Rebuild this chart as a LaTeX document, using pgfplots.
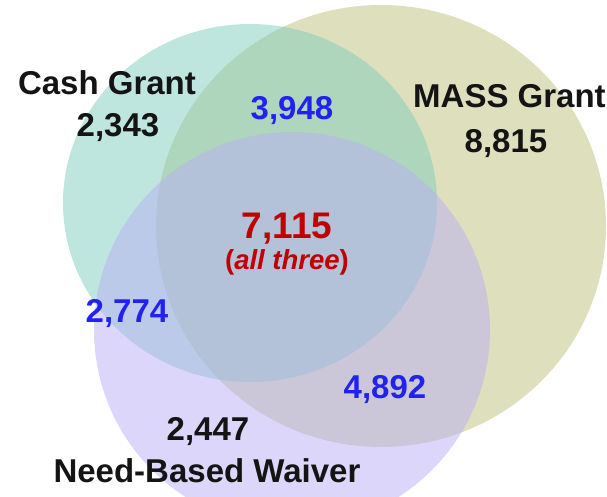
\documentclass[border=0pt]{standalone}
\usepackage{fontspec}
\setmainfont{Liberation Sans}
\usepackage{pgfplots}
\pgfplotsset{compat=1.18}
\definecolor{cteal}{RGB}{125,205,189}
\definecolor{ckhaki}{RGB}{189,191,121}
\definecolor{cpurple}{RGB}{185,175,245}
\definecolor{cblue}{RGB}{34,34,240}
\definecolor{cred}{RGB}{192,0,0}
\definecolor{cblack}{RGB}{20,20,20}
\tikzset{lbl/.style={font=\fontsize{33}{38}\selectfont\bfseries,anchor=base,inner sep=0pt}}
\begin{document}
\begin{tikzpicture}
\begin{axis}[width=607pt,height=496pt,scale only axis,
  xmin=0,xmax=607,ymin=0,ymax=496,hide axis,clip=true]
% sets: centre x, centre y, x radius, y radius (axis units = px)
\fill[ckhaki,fill opacity=0.5] (axis cs:381,270) ellipse [x radius=225,y radius=221];
\fill[cteal,fill opacity=0.5] (axis cs:250,293) ellipse [x radius=187,y radius=179];
\fill[cpurple,fill opacity=0.5] (axis cs:292,166) ellipse [x radius=198,y radius=198];
% labels
\node[lbl,text=cblack] at (axis cs:107,401) {Cash Grant};
\node[lbl,text=cblack] at (axis cs:118,359) {2,343};
\node[lbl,text=cblack,anchor=base west] at (axis cs:413,388) {MASS Grant};
\node[lbl,text=cblack] at (axis cs:506,343) {8,815};
\node[lbl,text=cblue] at (axis cs:292,376) {3,948};
\node[lbl,text=cred,font=\fontsize{37}{42}\selectfont\bfseries] at (axis cs:287,258) {7,115};
\node[lbl,text=cred,font=\fontsize{27.5}{32}\selectfont\bfseries] at (axis cs:287,227) {(\textit{all three})};
\node[lbl,text=cblue] at (axis cs:127,174) {2,774};
\node[lbl,text=cblue] at (axis cs:385,98) {4,892};
\node[lbl,text=cblack] at (axis cs:208,56) {2,447};
\node[lbl,text=cblack] at (axis cs:207,14) {Need-Based Waiver};
\end{axis}
\pgfresetboundingbox
\path[use as bounding box] (0,0) rectangle (607pt,496pt);
\end{tikzpicture}
\end{document}
